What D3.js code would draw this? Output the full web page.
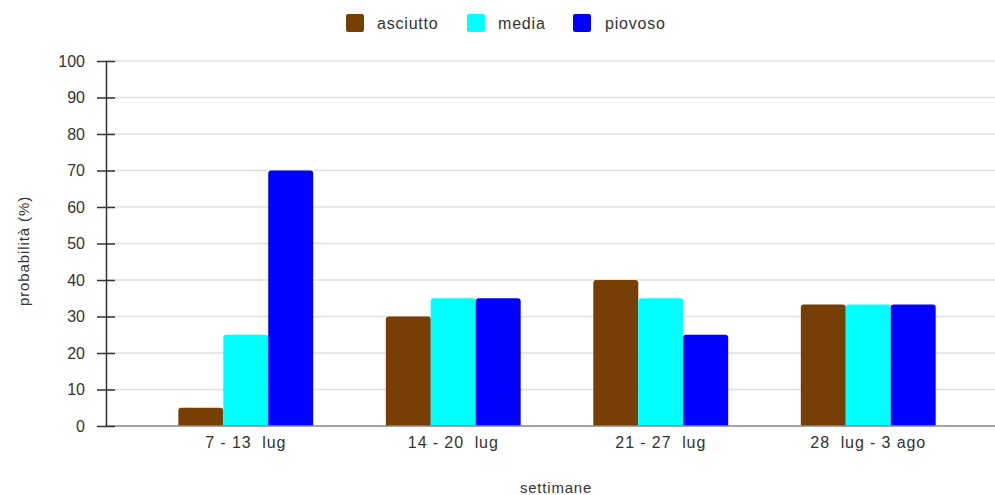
<!DOCTYPE html>
<html><head><meta charset="utf-8">
<script src="https://cdn.jsdelivr.net/npm/d3@7"></script>
<style>body{margin:0;background:#fff;}svg{display:block;font-family:"Liberation Sans",Arial,sans-serif;}</style>
</head><body>
<svg id="c" width="995" height="495"></svg>
<script>
const categories = ["7 - 13  lug", "14 - 20  lug", "21 - 27  lug", "28  lug - 3 ago"];
const seriesNames = ["asciutto", "media", "piovoso"];
const seriesColors = ["#783f04", "#00ffff", "#0000ff"];
const asciutto = [5, 30, 40, 33.3];
const media = [25, 35, 35, 33.3];
const piovoso = [70, 35, 25, 33.3];
const yTicks = [0, 10, 20, 30, 40, 50, 60, 70, 80, 90, 100];
const xTitle = "settimane";
const yTitle = "probabilità (%)";

(function () {
const values = [asciutto, media, piovoso];
const svg = d3.select("#c");
const pLeft = 106, pRight = 995, pTop = 61, pBottom = 426;
const FF = "Liberation Sans, Arial, sans-serif";

const y = d3.scaleLinear().domain([0, 100]).range([pBottom, pTop]);
const x0 = d3.scaleBand().domain(categories).range([142, 972]).paddingInner(0.35).paddingOuter(0.175);
const x1 = d3.scaleBand().domain(seriesNames).range([0, x0.bandwidth()]).padding(0);

// gridlines
svg.append("g").selectAll("line").data(yTicks.filter(d => d > 0)).join("line")
  .attr("x1", pLeft).attr("x2", pRight).attr("y1", d => y(d)).attr("y2", d => y(d))
  .attr("stroke", "#e0e0e0").attr("stroke-width", 1.5);

// bars
const rr = 3;
function barPath(x, yTop, w, h) {
  const r = Math.min(rr, h, w / 2);
  return `M${x},${yTop + h}V${yTop + r}Q${x},${yTop} ${x + r},${yTop}H${x + w - r}Q${x + w},${yTop} ${x + w},${yTop + r}V${yTop + h}Z`;
}
const groups = svg.append("g").selectAll("g").data(categories).join("g")
  .attr("transform", d => `translate(${x0(d)},0)`);
groups.selectAll("path").data((c, i) => seriesNames.map((s, j) => ({ s, j, v: values[j][i] }))).join("path")
  .attr("d", d => barPath(x1(d.s), y(d.v), x1.bandwidth(), pBottom - y(d.v)))
  .attr("fill", d => seriesColors[d.j]);

// baseline
svg.append("line").attr("x1", pLeft).attr("x2", pRight).attr("y1", pBottom).attr("y2", pBottom)
  .attr("stroke", "#888").attr("stroke-width", 1.5);

// y axis
const yAxis = d3.axisLeft(y).tickValues(yTicks).tickSize(0).tickPadding(21);
const ya = svg.append("g").attr("transform", `translate(${pLeft},0)`).call(yAxis);
ya.select(".domain").attr("stroke", "#333").attr("stroke-width", 1.5);
ya.selectAll(".tick line").remove();
ya.selectAll(".tick").append("line").attr("x1", -9).attr("x2", 9).attr("stroke", "#333").attr("stroke-width", 1.5);
ya.selectAll(".tick text").attr("font-size", 16).attr("fill", "#333").attr("font-family", FF);

// x axis labels
const xAxis = d3.axisBottom(x0).tickSize(0).tickPadding(11);
const xa = svg.append("g").attr("transform", `translate(0,${pBottom})`).call(xAxis);
xa.select(".domain").remove();
xa.selectAll(".tick text").attr("font-size", 16).attr("letter-spacing", 0.9).attr("fill", "#333")
  .style("white-space", "pre").attr("font-family", FF);

// titles
svg.append("text").attr("x", 556).attr("y", 493).attr("text-anchor", "middle")
  .attr("font-size", 15).attr("letter-spacing", 0.8).attr("fill", "#333").text(xTitle);
svg.append("text").attr("transform", "translate(29,251) rotate(-90)").attr("text-anchor", "middle")
  .attr("font-size", 15).attr("letter-spacing", 0.9).attr("fill", "#333").text(yTitle);

// legend
const legX = [346, 467, 573];
const txtX = [377, 498, 605];
const leg = svg.append("g").selectAll("g").data(seriesNames).join("g");
leg.append("rect").attr("x", (d, i) => legX[i]).attr("y", 14).attr("width", 18).attr("height", 18).attr("rx", 2)
  .attr("fill", (d, i) => seriesColors[i]);
leg.append("text").attr("x", (d, i) => txtX[i]).attr("y", 29).attr("font-size", 16).attr("letter-spacing", 0.8)
  .attr("fill", "#333").text(d => d);
})();
</script>
</body></html>
